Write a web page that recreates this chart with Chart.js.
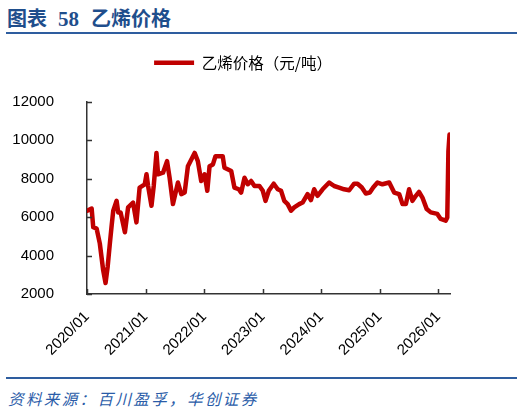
<!DOCTYPE html>
<html>
<head>
<meta charset="utf-8">
<script src="https://cdn.jsdelivr.net/npm/chart.js@4"></script>
<style>
  body { margin:0; width:524px; height:413px; background:#fff; position:relative; overflow:hidden; }
  #title { position:absolute; left:7px; top:3px; font-family:"Noto Sans CJK SC"; font-weight:bold; font-size:20px; color:#1f4e8c; white-space:nowrap; }
  #title .num { font-family:"Liberation Serif"; font-weight:bold; font-size:21px; margin:0 12px 0 11px; }
  .rule { position:absolute; left:6px; width:511px; height:2px; background:#2e5d9f; }
  #source { position:absolute; left:8px; top:387px; font-family:"Noto Sans CJK SC"; font-style:italic; font-size:15.5px; letter-spacing:2.4px; color:#2a5ca8; white-space:nowrap; }
  #wrap { position:absolute; left:0; top:24px; width:524px; height:346px; }
</style>
</head>
<body>
<div id="title">图表<span class="num">58</span>乙烯价格</div>
<div class="rule" style="top:32px"></div>
<div id="wrap"><canvas id="myChart"></canvas></div>
<div class="rule" style="top:377px"></div>
<div id="source">资料来源：百川盈孚，华创证券</div>
<script>
var seriesName = '乙烯价格（元/吨）';
var dates = ['2020-01-03','2020-01-30','2020-02-09','2020-03-01','2020-03-21','2020-04-11','2020-04-26','2020-05-09','2020-05-23','2020-06-03',
  '2020-06-13','2020-07-04','2020-07-14','2020-07-29','2020-08-25','2020-09-14','2020-10-15','2020-11-05','2020-11-25','2020-12-27',
  '2021-01-07','2021-01-17','2021-02-07','2021-02-21','2021-03-10','2021-03-20','2021-04-20','2021-05-15','2021-05-31','2021-06-21',
  '2021-07-22','2021-08-12','2021-09-02','2021-09-22','2021-11-03','2021-11-23','2021-12-14','2022-01-04','2022-01-21','2022-02-04',
  '2022-02-25','2022-03-13','2022-04-27','2022-05-08','2022-06-19','2022-07-09','2022-08-05','2022-08-20','2022-09-10','2022-09-30',
  '2022-10-21','2022-11-11','2022-12-12','2023-01-02','2023-01-19','2023-02-08','2023-03-11','2023-04-05','2023-04-26','2023-05-16',
  '2023-06-06','2023-06-27','2023-07-17','2023-08-17','2023-09-07','2023-10-08','2023-10-29','2023-11-18','2023-12-09','2024-01-10',
  '2024-02-20','2024-03-22','2024-04-22','2024-05-23','2024-06-24','2024-07-25','2024-08-15','2024-09-11','2024-10-06','2024-10-31',
  '2024-11-21','2024-12-18','2025-01-18','2025-03-01','2025-04-01','2025-05-02','2025-05-23','2025-06-13','2025-07-03','2025-07-24',
  '2025-08-14','2025-09-03','2025-09-24','2025-10-21','2025-11-15','2025-12-26','2026-01-16','2026-02-16','2026-02-26','2026-03-05',
  '2026-03-12'];
var prices = [6330,6440,5470,5400,4630,3240,2570,3400,4630,5550,
  6330,6840,6240,6240,5210,6500,6750,5720,7530,7700,
  8220,7610,6580,7610,9330,8220,8300,8900,8040,6670,
  7790,7190,7270,8640,9330,8900,7870,8220,7360,8640,
  8730,9160,9160,8560,8390,7530,7440,7270,8040,7700,
  7870,7610,7610,7360,6840,7360,7730,7440,7360,6840,
  6670,6330,6500,6670,6750,7190,6880,7440,7100,7440,
  7790,7610,7530,7440,7390,7730,7730,7530,7220,7270,
  7530,7790,7700,7790,7270,7190,6670,6670,7440,6840,
  7100,7300,7010,6410,6240,6160,5900,5810,5980,9420,
  10280];
var yTicks = [2000,4000,6000,8000,10000,12000];
var xTickYears = [2020,2021,2022,2023,2024,2025,2026];

function toYear(s) {
  var d = new Date(s + 'T00:00:00Z');
  var y = d.getUTCFullYear();
  var a = Date.UTC(y,0,1), b = Date.UTC(y+1,0,1);
  return y + (d.getTime() - a) / (b - a);
}
var points = [];
for (var i = 0; i < dates.length; i++) {
  points.push({x: toYear(dates[i]), y: prices[i]});
}

// short tick marks drawn on the inner side of both axes
var innerTicks = {
  id: 'innerTicks',
  afterDraw: function(chart) {
    var c = chart.ctx, xs = chart.scales.x, ys = chart.scales.y;
    c.save();
    c.strokeStyle = '#333';
    c.lineWidth = 1.5;
    c.beginPath();
    yTicks.forEach(function(v) {
      var p = Math.round(ys.getPixelForValue(v)) + 0.5;
      c.moveTo(xs.left, p); c.lineTo(xs.left + 5, p);
    });
    xTickYears.forEach(function(v) {
      var p = Math.round(xs.getPixelForValue(v)) + 0.5;
      c.moveTo(p, ys.bottom); c.lineTo(p, ys.bottom - 5);
    });
    c.stroke();
    c.restore();
  }
};

// nudge the legend a bit right, like the original
var legendShift = {
  id: 'legendShift',
  afterLayout: function(chart) {
    var lg = chart.legend;
    if (!lg || lg._shifted) return;
    var orig = lg.draw;
    lg.draw = function() {
      chart.ctx.save();
      chart.ctx.translate(18, 0);
      orig.apply(this, arguments);
      chart.ctx.restore();
    };
    lg._shifted = true;
  }
};

Chart.defaults.font.family = '"Liberation Sans", Arial, sans-serif';
Chart.defaults.color = '#000';

var ctx = document.getElementById('myChart').getContext('2d');
var myChart = new Chart(ctx, {
  type: 'line',
  data: {
    datasets: [{
      label: seriesName,
      data: points,
      borderColor: '#c00000',
      backgroundColor: '#c00000',
      borderWidth: 4.5,
      pointRadius: 0,
      tension: 0,
      borderJoinStyle: 'round',
      borderCapStyle: 'round'
    }]
  },
  options: {
    responsive: true,
    maintainAspectRatio: false,
    animation: false,
    layout: { padding: { left: 0, right: 74, top: 0, bottom: 0 } },
    plugins: {
      tooltip: { enabled: false },
      legend: {
        display: true,
        labels: {
          usePointStyle: true,
          pointStyle: 'line',
          pointStyleWidth: 40,
          padding: 31,
          font: { family: '"Noto Sans CJK SC"', size: 15.5 },
          color: '#000'
        }
      }
    },
    scales: {
      x: {
        type: 'linear',
        min: 2020,
        max: 2026.2,
        afterFit: function(s) { s.height = 76; },
        afterBuildTicks: function(s) {
          s.ticks = xTickYears.map(function(v) { return {value: v}; });
        },
        grid: { display: false },
        border: { display: true, color: '#333', width: 1.5 },
        ticks: {
          minRotation: 45,
          maxRotation: 45,
          padding: 6,
          font: { size: 15 },
          callback: function(v) { return v + '/01'; }
        }
      },
      xTop: {
        type: 'linear',
        position: 'top',
        min: 0,
        max: 1,
        afterFit: function(s) { s.height = 21; },
        grid: { display: false },
        border: { display: false },
        ticks: { display: false }
      },
      y: {
        min: 2000,
        max: 12000,
        afterFit: function(s) { s.width = 87; },
        grid: { display: false },
        border: { display: true, color: '#333', width: 1.5 },
        ticks: {
          stepSize: 2000,
          padding: 25,
          font: { size: 15 },
          callback: function(v) { return String(v); }
        }
      }
    }
  },
  plugins: [innerTicks, legendShift]
});
</script>
</body>
</html>
